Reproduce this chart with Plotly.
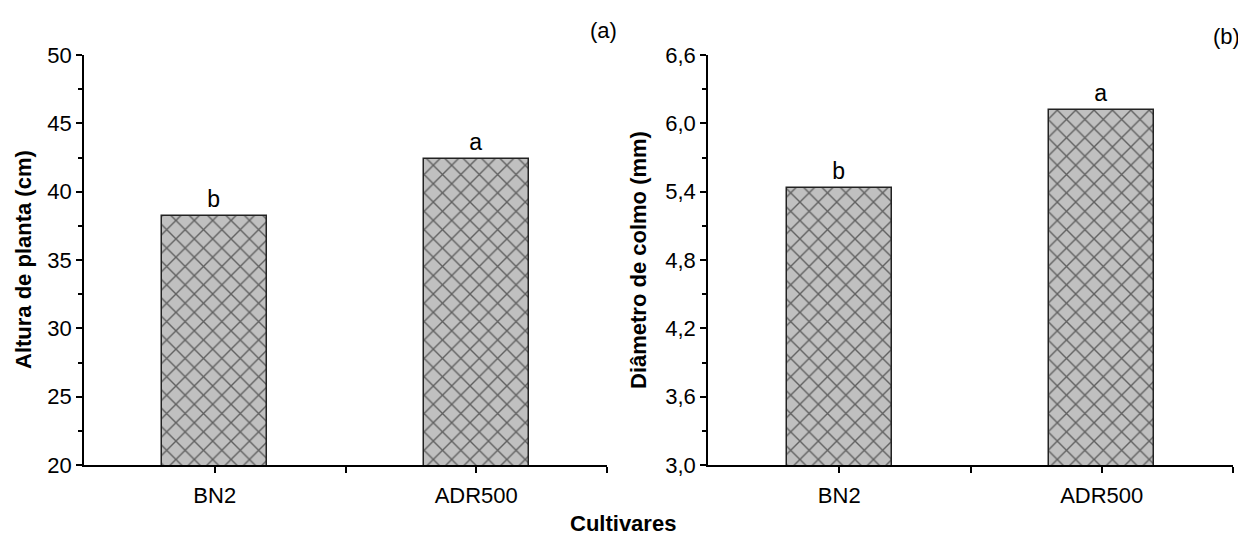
import plotly.graph_objects as go
from plotly.subplots import make_subplots

cultivares = ["BN2", "ADR500"]
altura = [38.25, 42.4]
altura_letras = ["b", "a"]
diametro = [5.43, 6.12]
diametro_letras = ["b", "a"]

# page has an 8px body margin: figure sized so it ends at the window edge
OFF = 8
W, H = 1246 - OFF, 541 - OFF
FONT = "Liberation Sans, Arial, sans-serif"

def px(x):
    return (x - OFF) / W

def py(y):
    return 1 - (y - OFF) / H

fig = make_subplots(rows=1, cols=2)

def bar_trace(vals, letras):
    return go.Bar(
        x=[0, 1], y=vals, width=0.4,
        text=letras, textposition="outside", constraintext="none", cliponaxis=False,
        textfont=dict(family=FONT, size=23, color="black"),
        marker=dict(color="#c0c0c0",
                    line=dict(color="#222222", width=1.5),
                    pattern=dict(shape="x", fgcolor="black", bgcolor="#c0c0c0",
                                 size=13, solidity=0.2, fillmode="overlay")),
        showlegend=False,
    )

fig.add_trace(bar_trace(altura, altura_letras), row=1, col=1)
fig.add_trace(bar_trace(diametro, diametro_letras), row=1, col=2)

ydom = [py(465), py(55)]
xdom1 = [px(84), px(607)]
xdom2 = [px(708), px(1233)]

axis_common = dict(showline=True, linecolor="black", linewidth=1.5, ticks="outside",
                   ticklen=6, tickwidth=1.5, tickcolor="black", showgrid=False,
                   zeroline=False, mirror=False, automargin=False,
                   tickfont=dict(family=FONT, size=22, color="black"))

for i, dom in ((1, xdom1), (2, xdom2)):
    fig.update_xaxes(row=1, col=i, domain=dom, range=[-0.5, 1.5], tickvals=[0, 1],
                     ticktext=cultivares, ticklabelstandoff=4,
                     minor=dict(tickvals=[0.5, 1.5], ticks="outside", ticklen=6,
                                tickwidth=1.5, tickcolor="black"),
                     **axis_common)

fig.update_yaxes(row=1, col=1, domain=ydom, range=[20, 50], dtick=5, tick0=20,
                 minor=dict(dtick=2.5, tick0=20, ticks="outside", ticklen=4,
                            tickwidth=1.5, tickcolor="black"),
                 **axis_common)
fig.update_yaxes(row=1, col=2, domain=ydom, range=[3.0, 6.6], dtick=0.6, tick0=3.0,
                 tickformat=".1f",
                 minor=dict(dtick=0.3, tick0=3.0, ticks="outside", ticklen=4,
                            tickwidth=1.5, tickcolor="black"),
                 **axis_common)

ymid = (ydom[0] + ydom[1]) / 2
ann = [
    dict(text="Altura de planta (cm)", x=px(23), y=ymid, textangle=-90,
         font=dict(family=FONT, size=22, color="black", weight="bold")),
    dict(text="Diâmetro de colmo (mm)", x=px(638), y=ymid, textangle=-90,
         font=dict(family=FONT, size=22, color="black", weight="bold")),
    dict(text="Cultivares", x=px(623), y=py(523),
         font=dict(family=FONT, size=22, color="black", weight="bold")),
    dict(text="(a)", x=px(603), y=py(31),
         font=dict(family=FONT, size=22, color="black")),
    dict(text="(b)", x=px(1226), y=py(37),
         font=dict(family=FONT, size=22, color="black")),
]
for a in ann:
    a.update(xref="paper", yref="paper", showarrow=False, xanchor="center", yanchor="middle")
fig.update_layout(annotations=ann)

fig.update_layout(
    width=W, height=H, margin=dict(l=0, r=0, t=0, b=0, autoexpand=False),
    paper_bgcolor="white", plot_bgcolor="white",
    separators=", ",
    font=dict(family=FONT, color="black"),
    bargap=0,
)

fig.write_html("out.html")
